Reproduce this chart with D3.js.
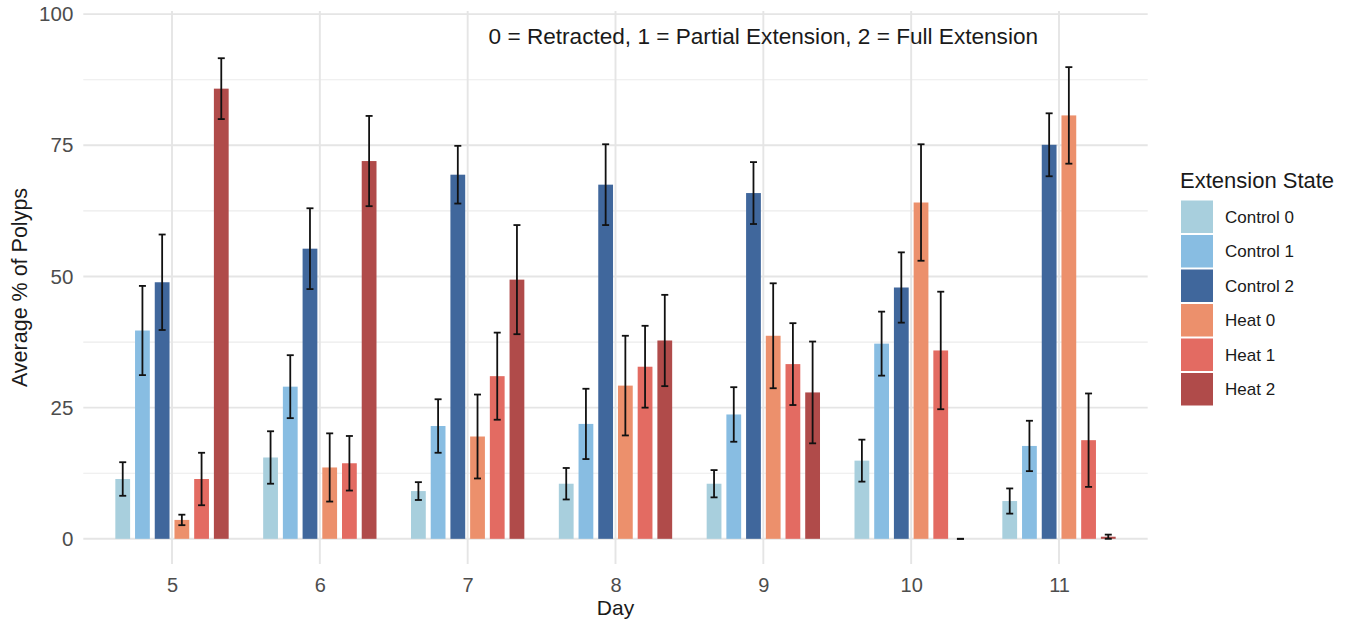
<!DOCTYPE html>
<html>
<head>
<meta charset="utf-8">
<script src="https://cdn.jsdelivr.net/npm/d3@7"></script>
<style>
  html, body { margin: 0; padding: 0; background: #ffffff; }
  svg text { font-family: "Liberation Sans", Arial, Helvetica, sans-serif; }
</style>
</head>
<body>
<svg id="chart" width="1346" height="623"></svg>
<script>
// ---- data ----
const days = ["5", "6", "7", "8", "9", "10", "11"];
const groups = ["Control 0", "Control 1", "Control 2", "Heat 0", "Heat 1", "Heat 2"];
const colors = ["#a8cfdd", "#88bde2", "#40679c", "#ec906c", "#e36b62", "#b04b4a"];

const control0 = [11.4, 15.5, 9.1, 10.5, 10.5, 14.9, 7.2];
const control0Se = [3.2, 5.0, 1.7, 3.0, 2.6, 4.0, 2.4];
const control1 = [39.7, 29.0, 21.5, 21.9, 23.7, 37.2, 17.7];
const control1Se = [8.5, 6.0, 5.1, 6.7, 5.2, 6.1, 4.8];
const control2 = [48.9, 55.3, 69.4, 67.5, 65.9, 47.9, 75.1];
const control2Se = [9.1, 7.7, 5.5, 7.7, 5.9, 6.7, 6.0];
const heat0 = [3.6, 13.6, 19.5, 29.2, 38.7, 64.1, 80.7];
const heat0Se = [1.0, 6.5, 8.0, 9.5, 10.0, 11.1, 9.2];
const heat1 = [11.4, 14.4, 31.0, 32.8, 33.3, 35.9, 18.8];
const heat1Se = [5.0, 5.2, 8.3, 7.8, 7.8, 11.2, 8.9];
const heat2 = [85.8, 72.0, 49.4, 37.8, 27.9, 0, 0.4];
const heat2Se = [5.8, 8.6, 10.4, 8.7, 9.7, 0, 0.4];

const yTicks = [0, 25, 50, 75, 100];
const yMinor = [12.5, 37.5, 62.5, 87.5];
const annotation = "0 = Retracted, 1 = Partial Extension, 2 = Full Extension";
const xTitle = "Day";
const yTitle = "Average % of Polyps";
const legendTitle = "Extension State";

const means = [control0, control1, control2, heat0, heat1, heat2];
const ses = [control0Se, control1Se, control2Se, heat0Se, heat1Se, heat2Se];
const rows = [];
groups.forEach((g, gi) => {
  days.forEach((d, di) => {
    rows.push({ day: d, group: g, mean: means[gi][di], se: ses[gi][di] });
  });
});

// ---- layout ----
const svg = d3.select("#chart");
const panel = { left: 83.3, right: 1147.7, top: 11, bottom: 564 };

const x = d3.scalePoint().domain(days).range([panel.left, panel.right]).padding(0.6);
const step = x.step();
const xSub = d3.scaleBand().domain(groups)
  .range([-0.4 * step, 0.4 * step]).paddingInner(0.25).paddingOuter(0.125);
const y = d3.scaleLinear().domain([-4.8, 100.6]).range([panel.bottom, panel.top]);
const color = d3.scaleOrdinal().domain(groups).range(colors);

// gridlines
const grid = svg.append("g");
grid.selectAll("line.minor").data(yMinor).enter().append("line")
  .attr("x1", panel.left).attr("x2", panel.right)
  .attr("y1", d => y(d)).attr("y2", d => y(d))
  .attr("stroke", "#ebebeb").attr("stroke-width", 1.2);
grid.selectAll("line.majorY").data(yTicks).enter().append("line")
  .attr("x1", panel.left).attr("x2", panel.right)
  .attr("y1", d => y(d)).attr("y2", d => y(d))
  .attr("stroke", "#e5e5e5").attr("stroke-width", 1.9);
grid.selectAll("line.majorX").data(days).enter().append("line")
  .attr("x1", d => x(d)).attr("x2", d => x(d))
  .attr("y1", panel.top).attr("y2", panel.bottom)
  .attr("stroke", "#e5e5e5").attr("stroke-width", 1.9);

// bars
const bars = svg.append("g");
bars.selectAll("rect").data(rows).enter().append("rect")
  .attr("x", d => x(d.day) + xSub(d.group))
  .attr("width", xSub.bandwidth())
  .attr("y", d => y(Math.max(0, d.mean)))
  .attr("height", d => Math.abs(y(0) - y(d.mean)))
  .attr("fill", d => color(d.group));

// error bars
const capW = 3.5;
const eb = svg.append("g").attr("stroke", "#111111").attr("stroke-width", 1.8).attr("fill", "none");
rows.forEach(d => {
  const cx = x(d.day) + xSub(d.group) + xSub.bandwidth() / 2;
  const lo = y(d.mean - d.se), hi = y(d.mean + d.se);
  eb.append("line").attr("x1", cx).attr("x2", cx).attr("y1", lo).attr("y2", hi);
  eb.append("line").attr("x1", cx - capW).attr("x2", cx + capW).attr("y1", lo).attr("y2", lo);
  eb.append("line").attr("x1", cx - capW).attr("x2", cx + capW).attr("y1", hi).attr("y2", hi);
});

// y axis
const yAxis = d3.axisLeft(y).tickValues(yTicks).tickSize(0).tickPadding(10);
const gy = svg.append("g").attr("transform", `translate(${panel.left},0)`).call(yAxis);
gy.select(".domain").remove();
gy.selectAll("text").attr("font-size", 20.5).attr("fill", "#4d4d4d")
  .attr("font-family", "Liberation Sans, Arial, sans-serif");

// x axis
const xAxis = d3.axisBottom(x).tickSize(0).tickPadding(14);
const gx = svg.append("g").attr("transform", `translate(0,${panel.bottom})`).call(xAxis);
gx.select(".domain").remove();
gx.selectAll("text").attr("font-size", 20).attr("fill", "#4d4d4d")
  .attr("font-family", "Liberation Sans, Arial, sans-serif");

// axis titles
svg.append("text").attr("x", (panel.left + panel.right) / 2).attr("y", 615)
  .attr("text-anchor", "middle").attr("font-size", 21).attr("fill", "#1a1a1a").text(xTitle);
svg.append("text")
  .attr("transform", `translate(27,${(panel.top + panel.bottom) / 2}) rotate(-90)`)
  .attr("text-anchor", "middle").attr("font-size", 21.5).attr("fill", "#1a1a1a").text(yTitle);

// annotation
svg.append("text").attr("x", x("9")).attr("y", y(95) + 4)
  .attr("text-anchor", "middle").attr("font-size", 22.6).attr("fill", "#1a1a1a").text(annotation);

// legend
const lg = svg.append("g").attr("transform", "translate(1180,0)");
lg.append("text").attr("x", 0).attr("y", 188).attr("font-size", 22).attr("fill", "#1a1a1a").text(legendTitle);
groups.forEach((g, i) => {
  const top = 200.5 + i * 34.5;
  lg.append("rect").attr("x", 1).attr("y", top).attr("width", 32).attr("height", 32.5)
    .attr("fill", color(g));
  lg.append("text").attr("x", 45).attr("y", top + 16.5).attr("dy", "0.35em")
    .attr("font-size", 17).attr("fill", "#1a1a1a").text(g);
});
</script>
</body>
</html>
